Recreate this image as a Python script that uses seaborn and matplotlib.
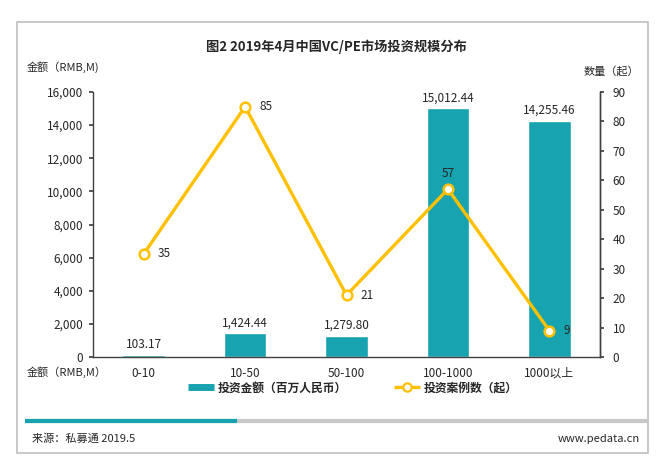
import matplotlib
matplotlib.use("Agg")
import matplotlib.pyplot as plt
import seaborn as sns
import pandas as pd
from matplotlib.patches import Rectangle
from matplotlib.lines import Line2D
from matplotlib.ticker import FuncFormatter, FixedLocator

# ---- data ----
categories = ["0-10", "10-50", "50-100", "100-1000", "1000以上"]
amounts = [103.17, 1424.44, 1279.80, 15012.44, 14255.46]
counts = [35, 85, 21, 57, 9]
title = "图2 2019年4月中国VC/PE市场投资规模分布"
bar_label = "投资金额（百万人民币）"
line_label = "投资案例数（起）"

sns.set_theme(style="white")
plt.rcParams['font.family'] = ['Noto Sans CJK SC', 'DejaVu Sans']

TEAL = "#17A3AF"
GOLD = "#FFC000"
TXT = "#262626"
AXC = "#404040"

W, H = 672, 470
fig = plt.figure(figsize=(W / 100, H / 100), dpi=100)
fig.patch.set_facecolor("white")

def fx(px):
    return px / W

def fy(py):
    return 1 - py / H

# outer frame
fig.patches.append(Rectangle((fx(17), fy(453)), fx(648) - fx(17), fy(22) - fy(453),
                             transform=fig.transFigure, fill=False,
                             edgecolor="#BFBFBF", linewidth=1.2, zorder=0))

ax = fig.add_axes([fx(93), fy(357), fx(600) - fx(93), fy(92) - fy(357)])
df = pd.DataFrame({"cat": categories, "amt": amounts, "cnt": counts})

sns.barplot(data=df, x="cat", y="amt", order=categories, color=TEAL,
            width=0.42, saturation=1, ax=ax, zorder=2)
ax.set_ylim(0, 16000)
ax.set_xlim(-0.5, len(categories) - 0.5)
ax.set_yticks(range(0, 16001, 2000))
ax.yaxis.set_major_formatter(FuncFormatter(lambda v, p: f"{int(v):,}"))
ax.set_xlabel("")
ax.set_ylabel("")
ax.spines["top"].set_visible(False)
for s in ["left", "bottom", "right"]:
    ax.spines[s].set_color(AXC)
    ax.spines[s].set_linewidth(1.0)
ax.tick_params(axis="y", direction="out", length=3, color=AXC, labelsize=8.5,
               labelcolor=TXT, pad=4)
ax.tick_params(axis="x", which="major", length=0, labelsize=8.5, labelcolor=TXT, pad=7)
ax.xaxis.set_minor_locator(FixedLocator([i + 0.5 for i in range(len(categories) - 1)]))
ax.tick_params(axis="x", which="minor", direction="in", length=3, color=AXC)

for i, v in enumerate(amounts):
    ax.text(i, v + 250, f"{v:,.2f}", ha="center", va="bottom", fontsize=8.5, color=TXT)

ax2 = ax.twinx()
sns.lineplot(data=df, x="cat", y="cnt", ax=ax2, color=GOLD, linewidth=2.4,
             marker="o", markersize=7, markerfacecolor="white",
             markeredgecolor=GOLD, markeredgewidth=1.8, zorder=3)
ax2.set_ylim(0, 90)
ax2.set_yticks(range(0, 91, 10))
ax2.set_xlim(-0.5, len(categories) - 0.5)
ax2.set_ylabel("")
ax2.set_xlabel("")
for s in ["top", "left", "bottom"]:
    ax2.spines[s].set_visible(False)
ax2.spines["right"].set_color(AXC)
ax2.spines["right"].set_linewidth(1.0)
ax2.tick_params(axis="y", direction="out", length=3, color=AXC, labelsize=8.5,
                labelcolor=TXT, pad=6)

offsets = {0: (0.14, 0, "left", "center"), 1: (0.14, 0, "left", "center"),
           2: (0.14, 0, "left", "center"), 3: (0, 3.2, "center", "bottom"),
           4: (0.14, 0, "left", "center")}
for i, v in enumerate(counts):
    dx, dy, ha, va = offsets[i]
    ax2.text(i + dx, v + dy, f"{v}", ha=ha, va=va, fontsize=8.5, color=TXT)

# titles and axis captions
fig.text(0.5, fy(47), title, ha="center", va="center", fontsize=9.5,
         fontweight="bold", color=TXT)
fig.text(fx(27), fy(67), "金额（RMB,M)", ha="left", va="center", fontsize=8, color=TXT)
fig.text(fx(584), fy(71), "数量（起）", ha="left", va="center", fontsize=8, color=TXT)
fig.text(fx(27), fy(372), "金额（RMB,M）", ha="left", va="center", fontsize=8, color=TXT)

# legend
handles = [Line2D([0], [0], color=TEAL, lw=5, solid_capstyle="butt"),
           Line2D([0], [0], color=GOLD, lw=2.4, marker="o", markersize=6,
                  solid_capstyle="butt",
                  markerfacecolor="white", markeredgecolor=GOLD, markeredgewidth=1.6)]
leg = fig.legend(handles, [bar_label, line_label], loc="center", ncol=2,
                 bbox_to_anchor=(fx(353), fy(388)), frameon=False,
                 handlelength=2.2, handletextpad=0.3, columnspacing=4.0,
                 prop={"weight": "bold", "size": 8.5})
for t in leg.get_texts():
    t.set_color(TXT)

# bottom decorative bar
fig.add_artist(Line2D([fx(25), fx(648)], [fy(421), fy(421)], color="#C8C8C8",
                      lw=3, solid_capstyle="butt", transform=fig.transFigure))
fig.add_artist(Line2D([fx(25), fx(237)], [fy(421), fy(421)], color=TEAL,
                      lw=3, solid_capstyle="butt", transform=fig.transFigure))

fig.text(fx(32), fy(439), "来源：私募通 2019.5", ha="left", va="center", fontsize=8,
         color=TXT)
fig.text(fx(640), fy(439), "www.pedata.cn", ha="right", va="center", fontsize=8,
         color=TXT)

fig.savefig("out.png", dpi=100, facecolor="white")
